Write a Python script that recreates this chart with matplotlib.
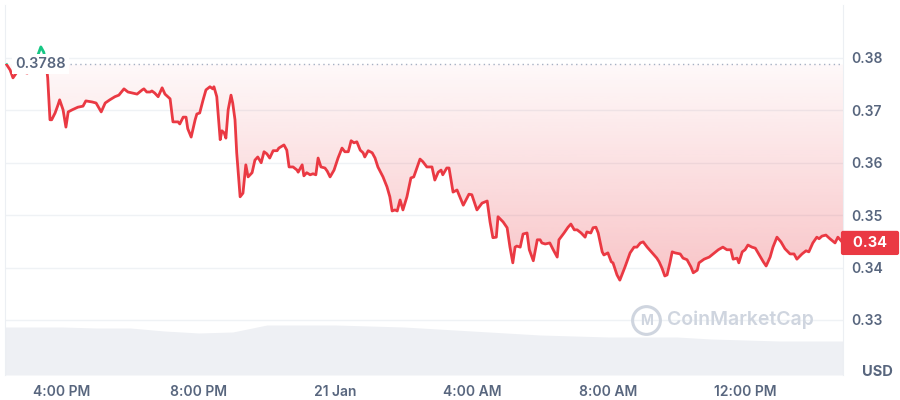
import numpy as np
import pandas as pd
import matplotlib
matplotlib.use("Agg")
import matplotlib.pyplot as plt
import matplotlib.dates as mdates
from matplotlib.patches import Rectangle
from matplotlib.path import Path

plt.rcParams["font.family"] = ["Inter", "DejaVu Sans"]

### DATA
# Price samples: minutes after 14:00 (20 Jan) and price in USD
minutes = [23, 29, 34, 41, 46, 53, 59, 66, 73, 78, 83, 88, 92, 95, 99, 102, 108, 113, 116, 122,
           127, 131, 138, 148, 157, 162, 173, 180, 189, 196, 204, 213, 220, 229, 236, 252, 261, 264, 269, 275,
           278, 283, 289, 296, 301, 310, 315, 324, 327, 333, 338, 341, 347, 354, 357, 362, 368, 373, 380, 385,
           387, 392, 398, 401, 405, 408, 412, 417, 420, 424, 427, 433, 438, 443, 447, 454, 459, 464, 470, 475,
           480, 485, 491, 498, 501, 510, 515, 519, 526, 533, 535, 542, 545, 550, 556, 561, 566, 570, 575, 582,
           586, 591, 598, 605, 612, 617, 623, 628, 633, 638, 644, 649, 652, 658, 665, 670, 675, 684, 691, 696,
           700, 705, 709, 714, 719, 726, 733, 738, 749, 754, 761, 770, 775, 781, 786, 789, 796, 800, 807, 814,
           825, 835, 840, 849, 858, 867, 872, 877, 883, 886, 895, 902, 907, 912, 916, 919, 925, 930, 937, 941,
           948, 955, 960, 963, 969, 977, 983, 990, 993, 1002, 1009, 1014, 1020, 1025, 1032, 1039, 1042, 1049, 1053, 1058,
           1062, 1069, 1072, 1079, 1085, 1088, 1095, 1100, 1109, 1118, 1125, 1130, 1136, 1141, 1148, 1157, 1165, 1169, 1174, 1179,
           1183, 1188, 1192, 1197, 1206, 1211, 1218, 1225, 1229, 1236, 1239, 1248, 1257, 1266, 1273, 1281, 1288, 1295, 1299, 1306,
           1309, 1315, 1320, 1325, 1332, 1338, 1345, 1352, 1357, 1364, 1369, 1376, 1383, 1390, 1399, 1406, 1411, 1420, 1427, 1432,
           1439, 1446, 1450, 1455, 1462, 1469, 1478, 1483, 1487, 1492]
prices = [0.3787, 0.3777, 0.3762, 0.3773, 0.3777, 0.3773, 0.3771, 0.3777, 0.3785, 0.3806, 0.3821, 0.3811, 0.3792, 0.3762, 0.3682, 0.3682, 0.3695, 0.3710, 0.3720, 0.3701,
          0.3668, 0.3697, 0.3701, 0.3706, 0.3708, 0.3718, 0.3716, 0.3714, 0.3697, 0.3714, 0.3720, 0.3726, 0.3729, 0.3741, 0.3735, 0.3731, 0.3739, 0.3741, 0.3735, 0.3735,
          0.3737, 0.3733, 0.3726, 0.3743, 0.3731, 0.3722, 0.3678, 0.3678, 0.3674, 0.3687, 0.3687, 0.3665, 0.3649, 0.3682, 0.3693, 0.3695, 0.3720, 0.3739, 0.3745, 0.3741,
          0.3745, 0.3726, 0.3644, 0.3661, 0.3657, 0.3647, 0.3701, 0.3729, 0.3714, 0.3682, 0.3619, 0.3535, 0.3542, 0.3596, 0.3573, 0.3581, 0.3605, 0.3611, 0.3600, 0.3621,
          0.3617, 0.3609, 0.3623, 0.3623, 0.3628, 0.3634, 0.3624, 0.3592, 0.3592, 0.3586, 0.3582, 0.3596, 0.3575, 0.3581, 0.3577, 0.3579, 0.3577, 0.3609, 0.3592, 0.3590,
          0.3584, 0.3573, 0.3586, 0.3609, 0.3628, 0.3621, 0.3621, 0.3642, 0.3638, 0.3640, 0.3624, 0.3619, 0.3611, 0.3623, 0.3619, 0.3609, 0.3592, 0.3573, 0.3554, 0.3535,
          0.3508, 0.3510, 0.3508, 0.3529, 0.3510, 0.3535, 0.3571, 0.3573, 0.3607, 0.3602, 0.3592, 0.3592, 0.3567, 0.3582, 0.3586, 0.3577, 0.3590, 0.3590, 0.3544, 0.3548,
          0.3519, 0.3540, 0.3539, 0.3510, 0.3523, 0.3527, 0.3487, 0.3457, 0.3458, 0.3497, 0.3487, 0.3476, 0.3439, 0.3409, 0.3439, 0.3441, 0.3439, 0.3464, 0.3466, 0.3434,
          0.3413, 0.3453, 0.3453, 0.3447, 0.3445, 0.3447, 0.3434, 0.3420, 0.3453, 0.3466, 0.3477, 0.3483, 0.3472, 0.3472, 0.3466, 0.3458, 0.3468, 0.3466, 0.3476, 0.3477,
          0.3466, 0.3430, 0.3424, 0.3428, 0.3411, 0.3409, 0.3386, 0.3376, 0.3401, 0.3428, 0.3439, 0.3439, 0.3447, 0.3449, 0.3439, 0.3428, 0.3418, 0.3411, 0.3399, 0.3384,
          0.3386, 0.3409, 0.3430, 0.3428, 0.3426, 0.3418, 0.3415, 0.3401, 0.3390, 0.3395, 0.3409, 0.3416, 0.3420, 0.3428, 0.3434, 0.3439, 0.3434, 0.3434, 0.3416, 0.3418,
          0.3409, 0.3430, 0.3434, 0.3443, 0.3439, 0.3437, 0.3424, 0.3411, 0.3403, 0.3420, 0.3439, 0.3458, 0.3449, 0.3436, 0.3426, 0.3426, 0.3416, 0.3426, 0.3432, 0.3430,
          0.3447, 0.3458, 0.3455, 0.3460, 0.3462, 0.3455, 0.3447, 0.3458, 0.3453, 0.3447]

# Volume (arbitrary units) on an hourly grid
vol_minutes = [20, 60, 120, 180, 240, 300, 360, 420, 480, 540, 600, 660, 720, 780, 840, 900,
               960, 1020, 1080, 1140, 1200, 1260, 1320, 1380, 1440, 1492]
volume = [4.8, 4.8, 4.8, 4.7, 4.7, 4.4, 4.2, 4.3, 5.0, 5.0, 5.0, 4.9, 4.8, 4.6, 4.4, 4.2,
          4.0, 3.9, 3.8, 3.8, 3.8, 3.6, 3.5, 3.4, 3.4, 3.4]

open_price = 0.3788
y_ticks = [0.33, 0.34, 0.35, 0.36, 0.37, 0.38]
x_tick_minutes = [120, 360, 600, 840, 1080, 1320]
x_tick_labels = ["4:00 PM", "8:00 PM", "21 Jan", "4:00 AM", "8:00 AM", "12:00 PM"]

### HELPERS
base = pd.Timestamp("2025-01-20 14:00")
to_num = lambda m: mdates.date2num(base + pd.to_timedelta(np.asarray(m), unit="min"))
t = to_num(minutes)
p = np.array(prices)
tv = to_num(vol_minutes)

RED = "#ea3943"
GREEN = "#16c784"
GREY = "#58667e"
GRID = "#eff2f5"

fig = plt.figure(figsize=(9, 4), dpi=100)
ax = fig.add_axes([5 / 900, 25 / 400, 838 / 900, 370 / 400])
axv = ax.twinx()
ax.set_zorder(2)
axv.set_zorder(1)
ax.patch.set_visible(False)

xmin, xmax = to_num([20, 1492])
ymin, ymax = 0.3195, 0.3901
ax.set_xlim(xmin, xmax)
ax.set_ylim(ymin, ymax)

# Volume area at the bottom
axv.fill_between(tv, volume, color="#eef0f4", lw=0)
axv.set_ylim(0, 37)
axv.set_yticks([])
for s in axv.spines.values():
    s.set_visible(False)

# Grid
for yv in y_ticks:
    ax.axhline(yv, color=GRID, lw=1, zorder=0)

# Gradient fill between price and open line
poly = ax.fill_between(t, np.minimum(p, open_price), open_price, color="none", lw=0)
clip = Path.make_compound_path(*poly.get_paths())
grad_lo, grad_hi = 0.337, open_price
alpha = np.linspace(0.30, 0.03, 256)[:, None]
img = np.zeros((256, 1, 4))
img[..., 0], img[..., 1], img[..., 2] = 234 / 255, 57 / 255, 67 / 255
img[..., 3] = alpha
im = ax.imshow(img, extent=[xmin, xmax, grad_lo, grad_hi], origin="lower", aspect="auto", zorder=1)
im.set_clip_path(clip, ax.transData)
ax.set_xlim(xmin, xmax)
ax.set_ylim(ymin, ymax)

# Open price reference line
ax.axhline(open_price, xmin=0.078, color="#a6b0c3", lw=1, ls=(0, (1, 2.5)), zorder=2)
ax.text(0.012, open_price, "0.3788", transform=ax.get_yaxis_transform(), ha="left", va="center",
        fontsize=10.5, fontweight="semibold", color=GREY, zorder=4,
        bbox=dict(boxstyle="square,pad=0.2", fc="white", ec="none"))

# Price line, red below open, green above
red_clip = Rectangle((xmin, ymin), xmax - xmin, open_price - ymin, transform=ax.transData)
green_clip = Rectangle((xmin, open_price), xmax - xmin, ymax - open_price, transform=ax.transData)
l1, = ax.plot(t, p, color=RED, lw=2, zorder=3, solid_joinstyle="round")
l1.set_clip_path(red_clip)
l2, = ax.plot(t, p, color=GREEN, lw=2, zorder=3, solid_joinstyle="round")
l2.set_clip_path(green_clip)

# Axes styling
ax.yaxis.tick_right()
ax.set_yticks(y_ticks)
ax.set_yticklabels([f"{v:.2f}" for v in y_ticks])
ax.set_xticks(to_num(x_tick_minutes))
ax.set_xticklabels(x_tick_labels)
ax.tick_params(axis="both", length=0, labelsize=10, labelcolor=GREY)
ax.tick_params(axis="y", pad=6)
ax.tick_params(axis="x", pad=7)
for lab in ax.get_xticklabels() + ax.get_yticklabels():
    lab.set_fontweight("semibold")
for side in ["top", "bottom"]:
    ax.spines[side].set_visible(False)
for side in ["left", "right"]:
    ax.spines[side].set_color("#eceff3")

# Current price tag
ax.annotate("  0.34  ", xy=(1, p[-1]), xycoords=ax.get_yaxis_transform(), xytext=(3, 0),
            textcoords="offset pixels", ha="left", va="center", fontsize=10.5, fontweight="bold",
            color="white", annotation_clip=False, zorder=5,
            bbox=dict(boxstyle="round,pad=0.35,rounding_size=0.15", fc=RED, ec="none"))

# Currency label
fig.text(877 / 900, 1 - 372 / 400, "USD", ha="center", va="center", fontsize=10.5,
         fontweight="bold", color=GREY)

# Watermark
ax.plot([0.7655], [0.148], transform=ax.transAxes, marker="o", ms=20, mfc="none",
        mec="#cfd5df", mew=2.2, zorder=2)
ax.text(0.7655, 0.145, "M", transform=ax.transAxes, ha="center", va="center",
        fontsize=10, color="#cfd5df", fontweight="bold", zorder=2)
ax.text(0.79, 0.148, "CoinMarketCap", transform=ax.transAxes, ha="left", va="center",
        fontsize=14, color="#cfd5df", fontweight="semibold", zorder=2)

fig.savefig("out.png", dpi=100)
